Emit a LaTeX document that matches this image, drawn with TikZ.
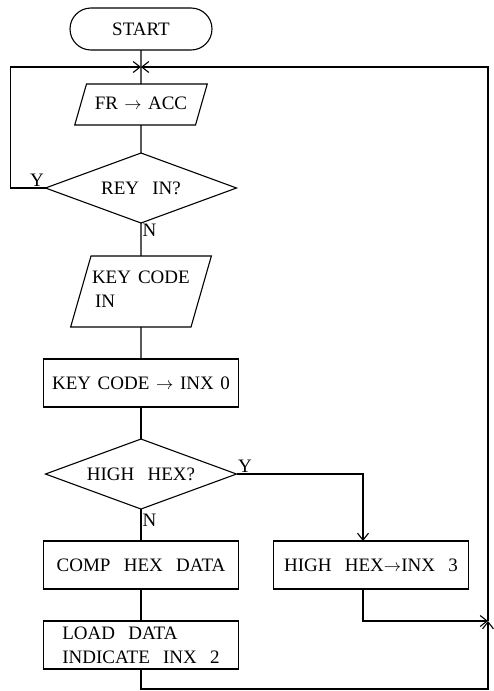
\documentclass[tikz,border=0pt]{standalone}
\usepackage{fontspec}
\setmainfont{Liberation Serif}[WordSpace=1.4]
\usetikzlibrary{arrows.meta, positioning, shapes.geometric, shapes.misc, calc}

\begin{document}
\begin{tikzpicture}[
  x=1pt, y=1pt,
  node distance=32pt,
  every node/.style={font=\fontsize{19}{24}\selectfont},
  base/.style={draw, line width=1.1pt, inner sep=2pt, outer sep=0pt},
  term/.style={base, rounded rectangle, minimum width=146pt, minimum height=42pt},
  io/.style={base, trapezium, trapezium left angle=74, trapezium right angle=106,
    text height=13pt},
  proc/.style={base, rectangle, minimum width=195pt, minimum height=48pt},
  dec/.style={base, diamond, aspect=2.73, minimum width=191pt, minimum height=70pt, inner sep=0pt},
  arr/.style={-{Straight Barb[length=7pt, width=11pt]}, line width=1.1pt},
  ln/.style={line width=1.1pt},
  yn/.style={inner sep=1pt}
]

\useasboundingbox (0,0) rectangle (493,-691);

\node[term] (start) at (141,-29) {START};
\node[io, text width=105pt, text depth=4pt, inner ysep=12pt, align=center, below=34pt of start] (fr) {FR $\rightarrow$ ACC};
\node[dec, below=28pt of fr] (rey) {REY\ \ IN?};
\node[io, text width=100pt, inner xsep=0pt, text depth=29pt, inner ysep=14.5pt, align=left, below=33pt of rey] (kin) {\mbox{\hspace{1pt}KEY\hspace{7pt}CODE}\\\hspace{4pt}IN};
\node[proc, below=32pt of kin] (kinx) {KEY CODE $\rightarrow$ INX 0};
\node[dec, below=32pt of kinx] (hh) {HIGH\ \ HEX?};
\node[proc, below=32pt of hh] (comp) {COMP\ \ HEX\ \ DATA};
\node[proc, right=35pt of comp] (hinx) {HIGH\ \ HEX$\rightarrow$INX\ \ 3};
\node[proc, align=left, below=32pt of comp] (load) {LOAD\ \ DATA\\INDICATE\ \ INX\ \ 2};

% merge points of the loops
\coordinate (jt) at ($(start.south)!0.5!(fr.north)$);
\coordinate (jr) at (488,-621);
\coordinate (hy) at ($(hinx.north)+(-8,0)$);

\draw[ln] (start) -- (fr);
\draw[ln] (fr) -- (rey);
\draw[ln] (rey) -- node[yn, pos=0.22, right]{N} (kin);
\draw[ln] (kin) -- (kinx);
\draw[ln] (kinx) -- (hh);
\draw[ln] (hh) -- node[yn, pos=0.35, right]{N} (comp);
\draw[ln] (comp) -- (load);

\draw[arr] (rey.west) node[yn, above left]{Y} -- ++(-35,0) |- (jt);
\draw[arr] (hh.east) node[yn, above right]{Y} -| (hy);
\draw[arr] ($(hinx.south)+(-8,0)$) |- (jr);
\draw[arr] (load.south) -- ++(0,-20) -| (jr);
\draw[arr] (jr) |- (jt);

\end{tikzpicture}
\end{document}
